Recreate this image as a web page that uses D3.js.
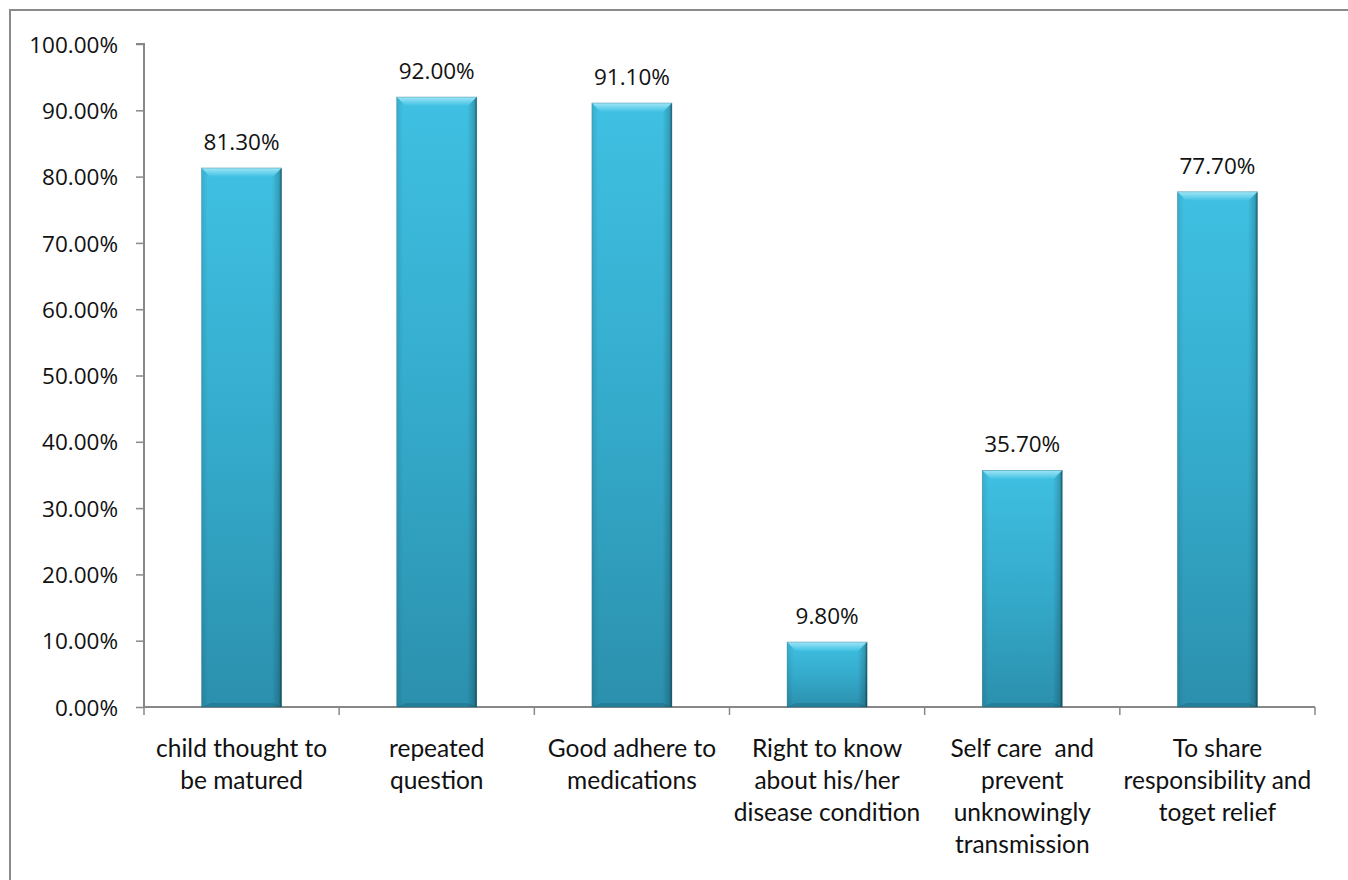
<!DOCTYPE html>
<html><head><meta charset="utf-8">
<script src="https://cdn.jsdelivr.net/npm/d3@7"></script>
<style>
html,body{margin:0;padding:0;background:#fff;}
svg text{font-family:"Open Sans","Noto Sans",sans-serif;fill:#111;white-space:pre;}
</style></head>
<body>
<svg id="chart" width="1348" height="880"></svg>
<script>
const categories = [
  ["child thought to","be matured"],
  ["repeated","question"],
  ["Good adhere to","medications"],
  ["Right to know","about his/her","disease condition"],
  ["Self care  and","prevent","unknowingly","transmission"],
  ["To share","responsibility and","toget relief"]
];
const values = [0.813, 0.920, 0.911, 0.098, 0.357, 0.777];
const valueLabels = ["81.30%","92.00%","91.10%","9.80%","35.70%","77.70%"];
const yTicks = [0,0.1,0.2,0.3,0.4,0.5,0.6,0.7,0.8,0.9,1.0];

const svg = d3.select("#chart");
const defs = svg.append("defs");

// frame
svg.append("path").attr("d","M10,880 L10,10 L1348,10")
  .attr("fill","none").attr("stroke","#8a8a8a").attr("stroke-width",2);

const x0 = 144, x1 = 1315, yTop = 44, yBot = 707;
const x = d3.scaleBand().domain(d3.range(categories.length)).range([x0,x1]).padding(0);
const y = d3.scaleLinear().domain([0,1]).range([yBot,yTop]);

// gradients
const gv = defs.append("linearGradient").attr("id","gv").attr("x1",0).attr("y1",0).attr("x2",0).attr("y2",1);
gv.append("stop").attr("offset","0%").attr("stop-color","#3fc0e2");
gv.append("stop").attr("offset","50%").attr("stop-color","#35abcc");
gv.append("stop").attr("offset","100%").attr("stop-color","#2b90ad");
const gh = defs.append("linearGradient").attr("id","gh").attr("x1",0).attr("y1",0).attr("x2",1).attr("y2",0);
gh.append("stop").attr("offset","0%").attr("stop-color","#000").attr("stop-opacity",0.10);
gh.append("stop").attr("offset","8%").attr("stop-color","#000").attr("stop-opacity",0);
gh.append("stop").attr("offset","88%").attr("stop-color","#000").attr("stop-opacity",0);
gh.append("stop").attr("offset","97%").attr("stop-color","#000").attr("stop-opacity",0.18);
gh.append("stop").attr("offset","100%").attr("stop-color","#000").attr("stop-opacity",0.55);
const gb = defs.append("linearGradient").attr("id","gb").attr("x1",0).attr("y1",0).attr("x2",0).attr("y2",1);
gb.append("stop").attr("offset","0%").attr("stop-color","#9fe6f8");
gb.append("stop").attr("offset","100%").attr("stop-color","#3ec0e2");

// y axis
const yAxis = d3.axisLeft(y).tickValues(yTicks).tickSize(8).tickFormat(d => (d*100).toFixed(2)+"%");
const ya = svg.append("g").attr("transform",`translate(${x0},0)`).call(yAxis);
ya.select(".domain").attr("stroke","#888").attr("stroke-width",2).attr("d",`M-8,${yTop}H0V${yBot}`);
ya.selectAll(".tick line").attr("stroke","#888").attr("stroke-width",1.5);
ya.selectAll(".tick text").attr("x",-26).attr("dy","0.36em").style("font-size","22.5px").style("font-family","'Open Sans',sans-serif").attr("fill","#111");

// x axis
svg.append("line").attr("x1",x0).attr("x2",x1).attr("y1",yBot).attr("y2",yBot).attr("stroke","#888").attr("stroke-width",2);
const bounds = d3.range(categories.length+1).map(i => i < categories.length ? x(i) : x1);
svg.selectAll(".xt").data(bounds).enter().append("line")
  .attr("x1",d=>d).attr("x2",d=>d).attr("y1",yBot).attr("y2",yBot+8)
  .attr("stroke","#888").attr("stroke-width",1.5);

// bars
const bw = x.bandwidth()*0.41;
const bars = svg.selectAll(".bar").data(values).enter().append("g").attr("class","bar");
bars.each(function(v,i){
  const g = d3.select(this);
  const bx = x(i) + x.bandwidth()/2 - bw/2;
  const by = y(v), bh = yBot - y(v);
  g.append("rect").attr("x",bx).attr("y",by).attr("width",bw).attr("height",bh).attr("fill","url(#gv)");
  g.append("rect").attr("x",bx).attr("y",by).attr("width",bw).attr("height",bh).attr("fill","url(#gh)");
  const b = Math.min(9, bh/2);
  g.append("path").attr("d",`M${bx},${by}H${bx+bw}L${bx+bw-b},${by+b}H${bx+b}Z`).attr("fill","url(#gb)");
  g.append("path").attr("d",`M${bx},${by+bh}H${bx+bw}L${bx+bw-b},${by+bh-4}H${bx+b}Z`).attr("fill","#000").attr("opacity",0.12);
  g.append("rect").attr("x",bx).attr("y",by).attr("width",bw).attr("height",bh).attr("fill","none").attr("stroke","#1f6f86").attr("stroke-width",0.6).attr("opacity",0.6);
});

// value labels
svg.selectAll(".vl").data(values).enter().append("text")
  .attr("x",(d,i)=>x(i)+x.bandwidth()/2).attr("y",d=>y(d)-18)
  .attr("text-anchor","middle").style("font-size","22.5px").text((d,i)=>valueLabels[i]);

// category labels
categories.forEach((lines,i)=>{
  const t = svg.append("text").attr("text-anchor","middle").style("font-size","24.5px")
    .style("font-family","'Lato','Open Sans',sans-serif");
  lines.forEach((ln,j)=>{
    t.append("tspan").attr("x",x(i)+x.bandwidth()/2).attr("y",757+j*32).text(ln);
  });
});
</script>
</body></html>
